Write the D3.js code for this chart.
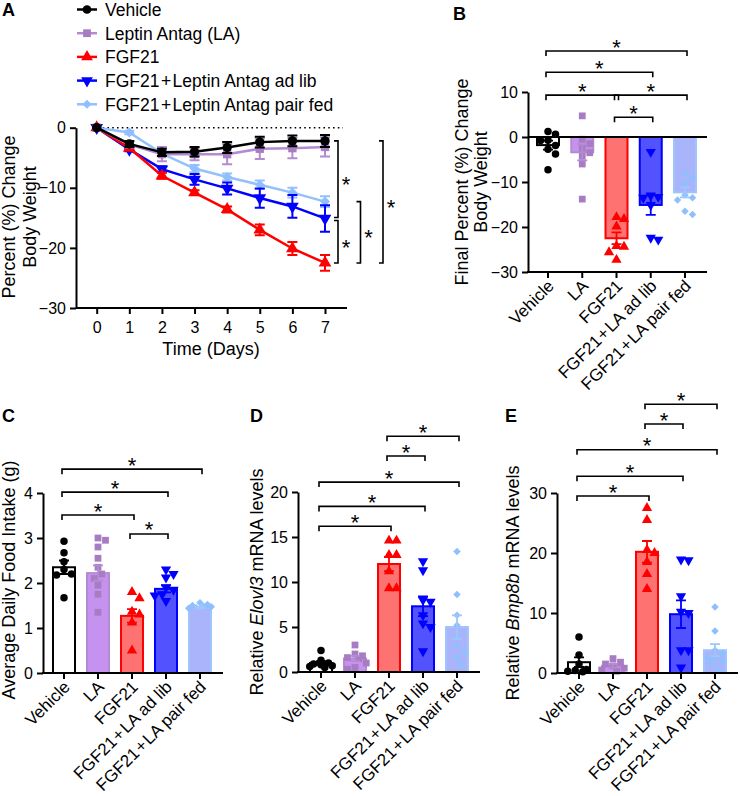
<!DOCTYPE html>
<html><head><meta charset="utf-8">
<script src="https://cdn.jsdelivr.net/npm/d3@7"></script>
<style>body{margin:0;background:#fff}svg{display:block}text{font-family:"Liberation Sans",Arial,Helvetica,sans-serif;fill:#000}</style>
</head><body><svg id="c" width="740" height="796"></svg>
<script>
// ---------------- DATA ----------------
const groups = ["Vehicle","LA","FGF21","FGF21\u200A+\u200ALA ad lib","FGF21\u200A+\u200ALA pair fed"];
const legendLabels = ["Vehicle","Leptin Antag (LA)","FGF21","FGF21\u200A+\u200ALeptin Antag ad lib","FGF21\u200A+\u200ALeptin Antag pair fed"];
const days = [0,1,2,3,4,5,6,7];
// Panel A: mean % change body weight and SEM
const aVehicle = [0,-2.7,-4.1,-4.0,-3.3,-2.4,-2.2,-2.2];
const aVehicleErr = [0,0.5,0.6,0.8,0.9,0.9,0.9,1.0];
const aLA = [0,-2.8,-4.4,-4.4,-4.4,-3.5,-3.4,-3.2];
const aLAErr = [0,0.4,1.2,1.0,1.7,1.7,1.7,1.6];
const aFGF = [0,-3.4,-8.0,-10.8,-13.6,-17.0,-20.1,-22.5];
const aFGFErr = [0,0.3,0.5,0.4,0.5,0.9,1.1,1.3];
const aAdlib = [0,-3.6,-6.9,-8.6,-10.1,-11.7,-13.1,-15.1];
const aAdlibErr = [0,0.3,0.5,0.9,1.0,1.6,1.9,2.2];
const aPair = [0,-0.8,-4.3,-6.8,-8.2,-9.5,-10.8,-12.3];
const aPairErr = [0,0.3,0.4,0.6,0.6,0.7,0.8,0.9];
const aTicksY = [0,-10,-20,-30];
// significance pairs in A (group indices)
const sigA = [[0,3],[3,2],[4,2],[0,2]];

// Panel B: final % change
const bMeans = [-1.8,-3.4,-22.5,-15.1,-12.3];
const bSem = [1.0,1.8,1.3,2.2,1.1];
const bPoints = [
  [1.2,0.6,-0.7,-0.8,-1.9,-2.7,-3.8,-7.3],
  [4.7,-0.5,-1.5,-2.5,-3.5,-4.3,-6.0,-13.8],
  [-18.2,-17.8,-19.9,-24.2,-24.4,-25.6,-27.3],
  [-3.3,-13.0,-13.3,-13.5,-15.1,-22.4,-22.8],
  [-8.0,-9.0,-10.2,-12.9,-13.5,-14.0,-16.5,-17.2]
];
const bTicks = [-30,-20,-10,0,10];
const sigB = [[0,4,19.1],[0,3,14.4],[0,2,9.3],[2,4,9.3],[2,3,4.4]];

// Panel C: food intake (g)
const cMeans = [2.35,2.22,1.27,1.87,1.45];
const cSem = [0.15,0.17,0.15,0.08,0.02];
const cPoints = [
  [2.93,2.67,2.47,2.3,2.2,2.18,1.67],
  [3.0,2.95,2.8,2.55,2.35,2.2,2.1,1.95,1.75,1.35],
  [1.8,1.66,1.36,1.3,1.12,0.5],
  [2.3,2.2,2.12,1.9,1.85,1.75,1.72,1.6],
  [1.56,1.52,1.5,1.48,1.47,1.45,1.44]
];
const cTicks = [0,1,2,3,4];
const sigC = [[0,4,4.53],[0,3,4.02],[0,2,3.51],[2,3,3.09]];

// Panel D: Elovl3
const dMeans = [1.0,1.5,12.0,7.3,5.0];
const dSem = [0.2,0.3,0.8,1.1,1.3];
const dPoints = [
  [2.4,1.3,1.0,0.9,0.8,0.7,0.6,0.5],
  [3.0,2.0,1.8,1.6,1.5,1.0,0.5,0.3],
  [14.6,14.6,13.0,13.0,11.2,9.3,9.3],
  [12.3,11.3,8.0,7.8,6.3,5.4,5.0,2.3],
  [13.4,8.6,6.3,5.2,4.0,2.9,2.2,1.6,0.8]
];
const dTicks = [0,5,10,15,20];
const sigD = [[2,4,26.2],[2,3,24.0],[0,4,21.1],[0,3,18.4],[0,2,16.2]];

// Panel E: Bmp8b
const eMeans = [1.8,1.2,20.2,9.8,3.8];
const eSem = [0.8,0.3,1.8,2.3,1.0];
const ePoints = [
  [6.0,3.0,1.5,0.6,0.4,0.3,0.2],
  [2.4,1.8,1.5,1.2,0.8,0.5,0.3],
  [27.5,25.5,20.5,20.0,18.5,16.5,14.0],
  [18.8,18.9,12.8,10.2,10.0,3.8,3.8,0.9],
  [11.0,7.0,3.8,3.3,2.5,2.5,2.0,1.5,0.5]
];
const eTicks = [0,10,20,30];
const sigE = [[2,4,44.8],[2,3,41.5],[0,4,37.2],[0,3,32.8],[0,2,29.5]];

// ---------------- STYLE ----------------
const strokeC = ["#000000","#b48ad3","#ff0000","#0000ff","#9fc5fd"];
const fillC = ["#ffffff","#c593ef","#ff7272","#5252ff","#a9b4fb"];
const pointC = ["#000000","#a77cc2","#ff0000","#0000ff","#8fbfff"];
const lineC = ["#000000","#b48ad3","#ff0000","#0000ff","#94c0fb"];

const svg = d3.select("#c");

function symPath(i, size){
  const t = [d3.symbolCircle,d3.symbolSquare,d3.symbolTriangle,d3.symbolTriangle,d3.symbolSquare][i];
  return d3.symbol(t, size)();
}
function symRot(i){ return i===3 ? " rotate(180)" : (i===4 ? " rotate(45)" : ""); }

function starText(g, x, y){
  g.append("text").attr("x",x).attr("y",y).attr("text-anchor","middle")
    .style("font-size","22px").text("*");
}

// ---------------- PANEL A ----------------
(function(){
  const g = svg.append("g");
  const xA = d3.scaleLinear().domain([0,7]).range([96.7,325]);
  const yA = d3.scaleLinear().domain([-30,0]).range([308,127.7]);
  const series = [aVehicle,aLA,aFGF,aAdlib,aPair];
  const errs = [aVehicleErr,aLAErr,aFGFErr,aAdlibErr,aPairErr];

  g.append("text").attr("x",2).attr("y",16).style("font-size","18px").style("font-weight","bold").text("A");

  // legend
  legendLabels.forEach((lab,i)=>{
    const ly = 9.5 + i*23.7;
    g.append("line").attr("x1",77).attr("x2",97).attr("y1",ly).attr("y2",ly)
      .attr("stroke",lineC[i]).attr("stroke-width",2.5);
    g.append("path").attr("d",symPath(i,i===4?40:60)).attr("fill",pointC[i])
      .attr("transform",`translate(87,${ly})${symRot(i)}`);
    g.append("text").attr("x",105).attr("y",ly+6.3).style("font-size","17.5px").text(lab);
  });

  // axes
  const ax = g.append("g").attr("transform","translate(76,0)")
    .call(d3.axisLeft(yA).tickValues(aTicksY).tickSize(6).tickSizeOuter(0).tickPadding(4).tickFormat(d3.format("d")));
  const bx = g.append("g").attr("transform","translate(0,308)")
    .call(d3.axisBottom(xA).tickValues(days).tickSize(6).tickSizeOuter(0).tickPadding(8).tickFormat(d3.format("d")));
  bx.select(".domain").remove();
  g.append("line").attr("x1",76).attr("x2",347).attr("y1",308).attr("y2",308).attr("stroke","#000").attr("stroke-width",2);
  [ax,bx].forEach(a=>{
    a.selectAll("line").attr("stroke","#000").attr("stroke-width",2);
    a.selectAll(".domain").attr("stroke","#000").attr("stroke-width",2);
    a.selectAll("text").style("font-size","16px").attr("fill","#000");
  });
  g.append("line").attr("x1",93).attr("x2",343).attr("y1",yA(0)).attr("y2",yA(0))
    .attr("stroke","#000").attr("stroke-width",1.6).attr("stroke-dasharray","1.6,3.2");

  // axis titles
  g.append("text").attr("transform","translate(15,217) rotate(-90)").attr("text-anchor","middle")
    .style("font-size","18px").text("Percent (%) Change");
  g.append("text").attr("transform","translate(36,217) rotate(-90)").attr("text-anchor","middle")
    .style("font-size","18px").text("Body Weight");
  g.append("text").attr("x",211).attr("y",355).attr("text-anchor","middle").style("font-size","18px").text("Time (Days)");

  const line = d3.line().x((d,i)=>xA(days[i])).y(d=>yA(d));
  [4,3,2,1,0].forEach(s=>{
    const gs = g.append("g");
    gs.append("path").attr("d",line(series[s])).attr("fill","none").attr("stroke",lineC[s]).attr("stroke-width",2.5);
    series[s].forEach((v,i)=>{
      const e = errs[s][i];
      if(e>0){
        const x = xA(days[i]);
        gs.append("path").attr("d",`M${x},${yA(v-e)}V${yA(v+e)}M${x-5},${yA(v-e)}H${x+5}M${x-5},${yA(v+e)}H${x+5}`)
          .attr("stroke",lineC[s]).attr("stroke-width",2).attr("fill","none");
      }
    });
    series[s].forEach((v,i)=>{
      gs.append("path").attr("d",symPath(s,s===4?50:70)).attr("fill",pointC[s])
        .attr("transform",`translate(${xA(days[i])},${yA(v)})${symRot(s)}`);
    });
  });

  // significance brackets (vertical)
  sigA.forEach((p,k)=>{
    const lvl = [0,0,1,2][k];
    const vx = xA(7) + 13 + lvl*22.5;
    let y1 = yA(series[p[0]][7]), y2 = yA(series[p[1]][7]);
    if(k===1){ y1 += 2; }
    if(k===0){ y2 -= 1; }
    g.append("path").attr("d",`M${vx-4},${y1}H${vx}V${y2}H${vx-4}`)
      .attr("fill","none").attr("stroke","#000").attr("stroke-width",1.6);
    starText(g, vx+8, (y1+y2)/2+13);
  });
})();

// ---------------- BAR PANELS ----------------
function swarm(vals, y, d, maxOff){
  const idx = vals.map((v,i)=>i).sort((a,b)=>vals[b]-vals[a]);
  const placed = [], offs = new Array(vals.length);
  const step = d/2, cands=[0];
  for(let k=1;k*step<=maxOff;k++){cands.push(k*step,-k*step);}
  idx.forEach(i=>{
    const py = y(vals[i]);
    let best=0, bestScore=-1;
    for(const c of cands){
      let m=Infinity;
      for(const p of placed){const dd=Math.hypot(p.x-c,p.y-py); if(dd<m)m=dd;}
      if(m>=d){best=c;break;}
      if(m>bestScore){bestScore=m;best=c;}
    }
    offs[i]=best; placed.push({x:best,y:py});
  });
  return offs;
}

function barPanel(cfg){
  const g = svg.append("g");
  const x = d3.scalePoint().domain(groups).range(cfg.xRange);
  const y = d3.scaleLinear().domain(cfg.yDomain).range(cfg.yRange);
  const y0 = y(0), yBottom = cfg.yRange[0];
  g.append("text").attr("x",cfg.lx).attr("y",cfg.ly).style("font-size","18px").style("font-weight","bold").text(cfg.label);

  // bars
  groups.forEach((gr,i)=>{
    const cx = x(gr), m = cfg.means[i];
    const top = Math.min(y(m),y0), h = Math.abs(y(m)-y0);
    g.append("rect").attr("x",cx-11).attr("y",top).attr("width",22).attr("height",h)
      .attr("fill",fillC[i]).attr("stroke",strokeC[i]).attr("stroke-width",2);
  });
  // points
  groups.forEach((gr,i)=>{
    const cx = x(gr);
    const offs = swarm(cfg.points[i], y, 7.5, 13);
    cfg.points[i].forEach((v,j)=>{
      g.append("path").attr("d",symPath(i,i===4?28:(i===0?44:46))).attr("fill",pointC[i])
        .attr("transform",`translate(${cx+offs[j]},${y(v)})${symRot(i)}`);
    });
  });
  // error bars
  groups.forEach((gr,i)=>{
    const cx = x(gr), m = cfg.means[i], e = cfg.sem[i];
    const a = y(m-e), b = y(m+e);
    g.append("path").attr("d",`M${cx},${a}V${b}M${cx-5},${a}H${cx+5}M${cx-5},${b}H${cx+5}`)
      .attr("stroke",strokeC[i]).attr("stroke-width",1.8).attr("fill","none");
  });

  // y axis
  const ax = g.append("g").attr("transform",`translate(${cfg.axisX},0)`)
    .call(d3.axisLeft(y).tickValues(cfg.ticks).tickSize(6).tickSizeOuter(0).tickPadding(4).tickFormat(d3.format("d")));
  ax.selectAll("line,.domain").attr("stroke","#000").attr("stroke-width",2);
  ax.selectAll("text").style("font-size","16px").attr("fill","#000");
  // x axis
  g.append("line").attr("x1",cfg.axisX-1).attr("x2",cfg.axisEnd).attr("y1",yBottom).attr("y2",yBottom)
    .attr("stroke","#000").attr("stroke-width",2);
  if(cfg.zeroLine){
    g.append("line").attr("x1",cfg.axisX).attr("x2",cfg.axisEnd).attr("y1",y0).attr("y2",y0)
      .attr("stroke","#000").attr("stroke-width",2);
  }
  groups.forEach(gr=>{
    const cx = x(gr);
    g.append("line").attr("x1",cx).attr("x2",cx).attr("y1",yBottom).attr("y2",yBottom+6)
      .attr("stroke","#000").attr("stroke-width",2);
    g.append("text").attr("transform",`translate(${cx+7},${yBottom+15}) rotate(-45)`)
      .attr("text-anchor","end").style("font-size","17px").text(gr);
  });

  // y title
  cfg.ylabel.forEach((lines,k)=>{
    const t = g.append("text").attr("transform",`translate(${cfg.ylx[k]},${cfg.yly}) rotate(-90)`)
      .attr("text-anchor","middle").style("font-size","18px");
    lines.forEach(part=>{
      t.append("tspan").style("font-style",part.i?"italic":"normal").text(part.t);
    });
  });

  // significance brackets
  cfg.sig.forEach(s=>{
    const x1 = x(groups[s[0]])-2, x2 = x(groups[s[1]])+2, yy = y(s[2]);
    g.append("path").attr("d",`M${x1},${yy+5}V${yy}H${x2}V${yy+5}`)
      .attr("fill","none").attr("stroke","#000").attr("stroke-width",1.6);
    starText(g,(x1+x2)/2,yy+3.5);
  });
}

barPanel({label:"B",lx:453,ly:20,xRange:[548,685],axisX:528,axisEnd:707,yDomain:[-30,10],yRange:[272,92],
  ticks:bTicks,means:bMeans,sem:bSem,points:bPoints,zeroLine:true,sig:sigB,
  ylabel:[[{t:"Final Percent (%) Change"}],[{t:"Body Weight"}]],ylx:[468,487],yly:182});
barPanel({label:"C",lx:2,ly:422,xRange:[64,200],axisX:43,axisEnd:223,yDomain:[0,4],yRange:[673,493],
  ticks:cTicks,means:cMeans,sem:cSem,points:cPoints,sig:sigC,
  ylabel:[[{t:"Average Daily Food Intake (g)"}]],ylx:[15],yly:580});
barPanel({label:"D",lx:250,ly:422,xRange:[321,457],axisX:298,axisEnd:480,yDomain:[0,20],yRange:[672,492],
  ticks:dTicks,means:dMeans,sem:dSem,points:dPoints,sig:sigD,
  ylabel:[[{t:"Relative "},{t:"Elovl3",i:true},{t:" mRNA levels"}]],ylx:[263],yly:582});
barPanel({label:"E",lx:505,ly:422,xRange:[579,715],axisX:557,axisEnd:738,yDomain:[0,30],yRange:[673,493],
  ticks:eTicks,means:eMeans,sem:eSem,points:ePoints,sig:sigE,
  ylabel:[[{t:"Relative "},{t:"Bmp8b",i:true},{t:" mRNA levels"}]],ylx:[519],yly:583});
</script></body></html>
